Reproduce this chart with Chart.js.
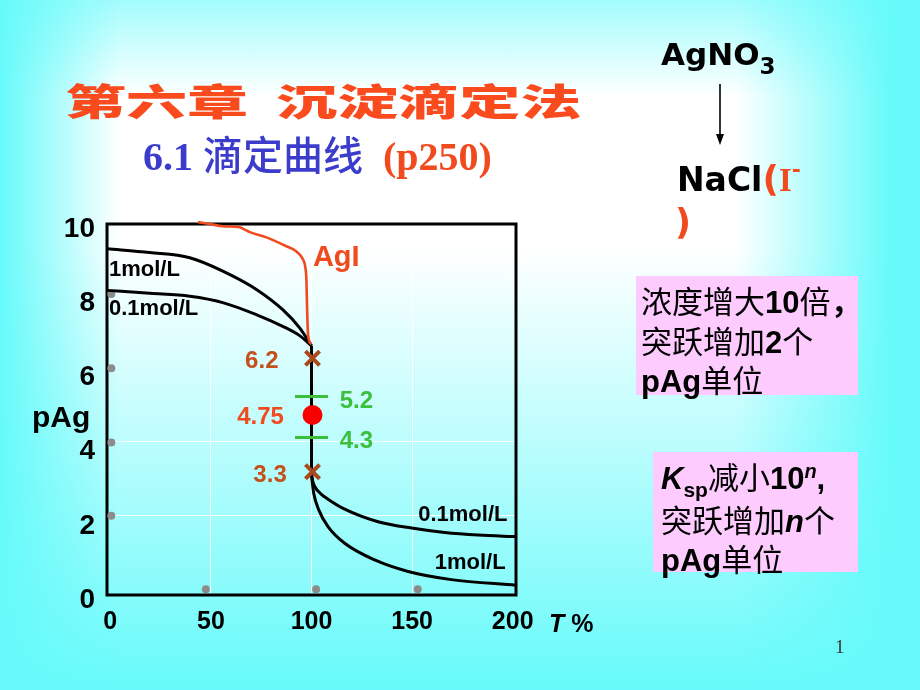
<!DOCTYPE html>
<html>
<head>
<meta charset="utf-8">
<script src="https://cdn.jsdelivr.net/npm/chart.js@4.4.0/dist/chart.umd.min.js"></script>
<style>
html,body{margin:0;padding:0;}
body{width:920px;height:690px;overflow:hidden;position:relative;
  background:
   linear-gradient(to right, rgba(102,250,250,1) 0%, rgba(102,250,250,0) 13%, rgba(102,250,250,0) 80%, rgba(102,250,250,1) 97%),
   linear-gradient(to bottom, rgba(102,250,250,0.6) 0%, rgba(102,250,250,0) 14%, rgba(102,250,250,0) 36%, rgba(102,250,250,1) 100%),
   #ffffff;}
#c{position:absolute;left:0;top:0;}
.t{position:absolute;white-space:pre;line-height:1;margin:0;}
.box{position:absolute;background:#fdcbfd;}
.bt{position:absolute;white-space:pre;font-family:'Liberation Sans','Noto Sans CJK SC',sans-serif;font-size:31px;line-height:36.5px;color:#000;}
.bt b{font-weight:bold;}
.cjk{font-family:'Noto Sans CJK SC';font-weight:400;}
</style>
</head>
<body>
<canvas id="c" width="920" height="690"></canvas>

<div class="t" style="left:65px;top:73px;font:900 37px 'Noto Sans CJK SC';color:#f94b1d;transform:scaleX(1.65);transform-origin:0 0;">第六章  沉淀滴定法</div>
<div class="t" style="left:143px;top:124px;font:bold 40px 'Liberation Serif','Noto Sans CJK SC';color:#3c3ccc;">6.1 <span style="font-family:'Noto Sans CJK SC';font-weight:500;">滴定曲线</span>  <span style="color:#f04a1e;">(p250)</span></div>

<div class="t" style="left:661px;top:36px;font:bold 31px 'DejaVu Sans';color:#000;">AgNO<span style="font-size:23px;position:relative;top:9px;">3</span></div>
<svg style="position:absolute;left:712px;top:84px;" width="16" height="64"><line x1="8" y1="0" x2="8" y2="54" stroke="#000" stroke-width="1.6"/><polygon points="4,50 12,50 8,61" fill="#000"/></svg>
<div class="t" style="left:677px;top:158px;font:bold 33px 'DejaVu Sans';color:#000;">NaCl<span style="color:#f04a1e;"><span style="font-size:36px;">(</span><span style="font-family:'Liberation Serif';">I</span><span style="font-size:22px;position:relative;top:-14px;">-</span></span></div>
<div class="t" style="left:675px;top:202px;font:bold 35px 'DejaVu Sans';color:#f04a1e;">)</div>

<div class="box" style="left:636px;top:276px;width:222px;height:119px;"></div>
<div class="bt" style="left:641px;top:282px;"><span class="cjk">浓度增大</span><b>10</b><span class="cjk">倍</span><b class="cjk" style="font-weight:700;">，</b>
<span class="cjk">突跃增加</span><b>2</b><span class="cjk">个</span>
<b>pAg</b><span class="cjk">单位</span></div>

<div class="box" style="left:653px;top:452px;width:205px;height:120px;"></div>
<div class="bt" style="left:661px;top:458px;"><b><i>K</i></b><b style="font-size:21px;position:relative;top:8px;">sp</b><span class="cjk">减小</span><b>10</b><b style="font-size:20px;position:relative;top:-11px;"><i>n</i></b><b>,</b>
<span class="cjk">突跃增加</span><b><i>n</i></b><span class="cjk">个</span>
<b>pAg</b><span class="cjk">单位</span></div>

<div class="t" style="left:32px;top:400px;font:bold 30px 'Liberation Sans';color:#000;">pAg</div>
<div class="t" style="left:549px;top:609px;font:bold 25px 'Liberation Sans';color:#000;"><i>T</i> %</div>
<div class="t" style="left:835px;top:636px;font:19px 'Liberation Serif';color:#333;">1</div>

<script>
// ---- data (T % vs pAg) ----
const xTickValues = [0, 50, 100, 150, 200];
const yTickValues = [0, 2, 4, 6, 8, 10];

const T_1M_before   = [-1.6, 19.6, 39.5, 55.9, 72.8, 85.7, 94.1, 98.1, 100];
const pAg_1M_before = [9.20, 9.10, 8.96, 8.60, 8.10, 7.56, 7.07, 6.75, 6.59];

const T_01M_before   = [-1.6, 19.6, 39.5, 55.9, 72.8, 85.7, 94.1, 98.1, 100];
const pAg_01M_before = [8.08, 8.00, 7.92, 7.75, 7.42, 7.11, 6.86, 6.68, 6.59];

const T_jump   = [100, 100];
const pAg_jump = [6.59, 3.13];

const T_1M_after   = [100, 100.4, 101.1, 103.6, 108.2, 116.5, 131.4, 148.0, 169.5, 201.6];
const pAg_1M_after = [3.13, 2.90, 2.61, 2.16, 1.71, 1.26, 0.81, 0.50, 0.28, 0.13];

const T_01M_after   = [100, 100.5, 101.6, 104.5, 108.2, 116.5, 133.1, 149.7, 166.2, 182.8, 201.6];
const pAg_01M_after = [3.13, 2.96, 2.79, 2.60, 2.45, 2.18, 1.84, 1.67, 1.55, 1.48, 1.44];

const T_AgI   = [43.6, 49.4, 56.0, 64.3, 66.8, 69.3, 77.6, 87.5, 92.5, 95.8, 97.0, 97.5, 97.8, 98.3, 99.8];
const pAg_AgI = [9.92, 9.87, 9.81, 9.78, 9.72, 9.65, 9.51, 9.27, 9.13, 8.91, 8.68, 8.32, 7.60, 6.88, 6.62];

const T_jumpEnds   = [100.5, 100.5];
const pAg_jumpEnds = [6.25, 3.19];
const T_eq   = [100.5];
const pAg_eq = [4.72];
const T_indicator   = [100, 100];
const pAg_indicator = [5.22, 4.11];

const T_tickDots   = [47.5, 102.3, 152.8, 0.5, 0.5, 0.5, 0.5];
const pAg_tickDots = [0.02, 0.02, 0.02, 2.0, 3.98, 5.98, 7.98];

// annotation texts and anchors (data coordinates)
const noteTexts = ['1mol/L', '0.1mol/L', '0.1mol/L', '1mol/L', 'AgI', '6.2', '3.3', '4.75', '5.2', '4.3'];
const noteT     = [-0.65, -0.65, 197.4, 196.5, 100.7, 75.3, 79.4, 74.7, 122.3, 122.3];
const notePAg   = [8.64, 7.58, 2.02, 0.72, 8.96, 6.16, 3.10, 4.66, 5.08, 4.00];

// ---- build ----
const pts = (xs, ys) => xs.map((x, i) => ({x: x, y: ys[i]}));
const BLACK = '#000000', ORANGE = '#f04a1e', BROWN = '#a84a1e', GREEN = '#3cc03c';

const noteStyle = [
  {align:'left',   color:BLACK,  font:'bold 22px "Liberation Sans"'},
  {align:'left',   color:BLACK,  font:'bold 22px "Liberation Sans"'},
  {align:'right',  color:BLACK,  font:'bold 22px "Liberation Sans"'},
  {align:'right',  color:BLACK,  font:'bold 22px "Liberation Sans"'},
  {align:'left',   color:ORANGE, font:'bold 29px "Liberation Sans"'},
  {align:'center', color:'#c4501c', font:'bold 24px "Liberation Sans"'},
  {align:'center', color:'#c4501c', font:'bold 24px "Liberation Sans"'},
  {align:'center', color:ORANGE, font:'bold 24px "Liberation Sans"'},
  {align:'center', color:GREEN,  font:'bold 24px "Liberation Sans"'},
  {align:'center', color:GREEN,  font:'bold 24px "Liberation Sans"'}
];

const curve = (label, xs, ys, color, width) => ({
  label: label, data: pts(xs, ys), showLine: true, pointRadius: 0,
  borderColor: color, borderWidth: width, cubicInterpolationMode: 'monotone',
  fill: false, clip: false
});

const datasets = [
  {label:'指示剂', data: pts(T_indicator, pAg_indicator), pointStyle:'line', pointRadius:16.5,
   borderColor: GREEN, borderWidth: 3, backgroundColor: GREEN, showLine:false},
  {label:'化学计量点', data: pts(T_eq, pAg_eq), pointStyle:'circle', pointRadius:10,
   backgroundColor:'#f80000', borderColor:'#f80000', borderWidth:0, showLine:false},
  {label:'突跃', data: pts(T_jumpEnds, pAg_jumpEnds), pointStyle:'crossRot', pointRadius:10,
   borderColor: BROWN, borderWidth: 4, showLine:false},
  curve('AgI', T_AgI, pAg_AgI, ORANGE, 2.6),
  curve('1mol/L', T_1M_before, pAg_1M_before, BLACK, 3),
  curve('0.1mol/L', T_01M_before, pAg_01M_before, BLACK, 3),
  curve('jump', T_jump, pAg_jump, BLACK, 3),
  curve('1mol/L after', T_1M_after, pAg_1M_after, BLACK, 3),
  curve('0.1mol/L after', T_01M_after, pAg_01M_after, BLACK, 3),
  {label:'ticks', data: pts(T_tickDots, pAg_tickDots), pointStyle:'circle', pointRadius:4,
   backgroundColor:'#8c8c8c', borderWidth:0, showLine:false}
];

const frame = {
  id: 'frame',
  beforeDatasetsDraw(chart) {
    const a = chart.chartArea, ctx = chart.ctx;
    ctx.save();
    ctx.strokeStyle = '#000';
    ctx.lineWidth = 3;
    ctx.strokeRect(a.left, a.top, a.right - a.left, a.bottom - a.top);
    ctx.restore();
  }
};

const notes = {
  id: 'notes',
  afterDatasetsDraw(chart) {
    const ctx = chart.ctx, sx = chart.scales.x, sy = chart.scales.y;
    ctx.save();
    ctx.textBaseline = 'middle';
    noteTexts.forEach((t, i) => {
      const s = noteStyle[i];
      ctx.font = s.font; ctx.fillStyle = s.color; ctx.textAlign = s.align;
      ctx.fillText(t, sx.getPixelForValue(noteT[i]), sy.getPixelForValue(notePAg[i]));
    });
    ctx.restore();
  }
};

const gridWhite = (vals) => (c) => (c.tick && vals.includes(c.tick.value)) ? 'rgba(255,255,255,0.9)' : 'rgba(0,0,0,0)';

new Chart(document.getElementById('c'), {
  type: 'scatter',
  data: { datasets: datasets },
  options: {
    responsive: false,
    animation: false,
    devicePixelRatio: 1,
    layout: { padding: { top: 224, right: 404, left: 0, bottom: 0 } },
    plugins: { legend: { display: false }, tooltip: { enabled: false } },
    scales: {
      x: {
        type: 'linear', min: -1.64, max: 201.64,
        afterBuildTicks: s => { s.ticks = xTickValues.map(v => ({value: v})); },
        afterFit: s => { s.height = 95; },
        border: { display: false },
        grid: { color: gridWhite([50, 100, 150]), lineWidth: 1, drawTicks: false },
        ticks: { padding: 12, color: '#000', font: { family: 'Liberation Sans', size: 25, weight: 'bold' }, maxRotation: 0, autoSkip: false }
      },
      y: {
        type: 'linear', min: -0.135, max: 9.87,
        afterBuildTicks: s => { s.ticks = yTickValues.map(v => ({value: v})); },
        afterFit: s => { s.width = 107; },
        border: { display: false },
        grid: { color: gridWhite([2, 4]), lineWidth: 1, drawTicks: false },
        ticks: { padding: 12, labelOffset: 10, color: '#000', font: { family: 'Liberation Sans', size: 28, weight: 'bold' }, autoSkip: false }
      }
    }
  },
  plugins: [frame, notes]
});
</script>
</body>
</html>
